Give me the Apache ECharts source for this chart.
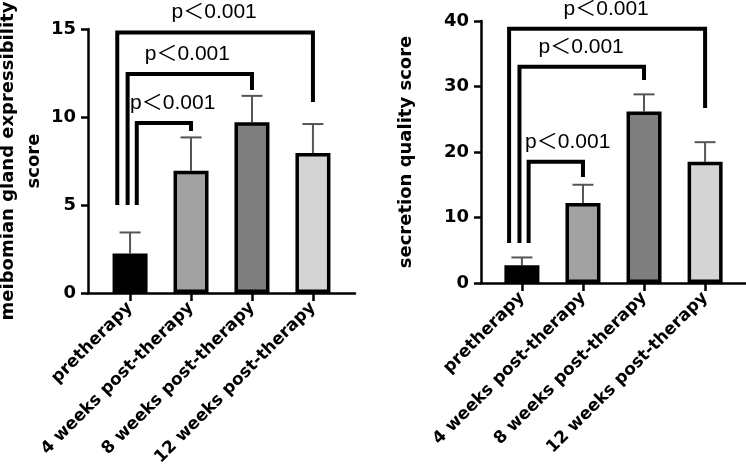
<!DOCTYPE html>
<html>
<head>
<meta charset="utf-8">
<script src="https://cdn.jsdelivr.net/npm/echarts@6/dist/echarts.min.js"></script>
<style>html,body{margin:0;padding:0;background:#fff;}#c{width:746px;height:470px;}</style>
</head>
<body>
<div id="c"></div>
<script>
// ---- data ----
const categories = ['pretherapy', '4 weeks post-therapy', '8 weeks post-therapy', '12 weeks post-therapy'];
const expressMean = [2.25, 6.95, 9.7, 7.95];
const expressUpper = [3.44, 8.84, 11.2, 9.6];
const secretionMean = [2.7, 12.2, 26.2, 18.5];
const secretionUpper = [3.9, 15.0, 28.8, 21.5];
const expressTicks = [0, 5, 10, 15];
const secretionTicks = [0, 10, 20, 30, 40];
const pText = 'p＜0.001';
// brackets: [from, to, leftLegBottom, top, rightLegBottom, labelX]
const expressBrackets = [
  [0, 1, 5.0, 9.66, 9.2, 0.70],
  [0, 2, 5.0, 12.44, 11.53, 0.94],
  [0, 3, 5.0, 14.8, 10.85, 1.38]
];
const secretionBrackets = [
  [0, 1, 6.1, 18.5, 16.2, 0.75],
  [0, 2, 6.1, 33.0, 31.0, 0.97],
  [0, 3, 6.1, 38.8, 26.7, 1.38]
];

const barColors = ['#000000', '#a2a2a2', '#7f7f7f', '#d4d4d4'];
const legOffsets = [0.11, -0.04, -0.21];
const tickFont = {fontFamily: 'DejaVu Sans', fontWeight: 'bold', fontSize: 18, color: '#000'};

function xAxisCfg(gridIndex, min, max) {
  return {
    type: 'value', gridIndex: gridIndex, min: min, max: max,
    splitLine: {show: false},
    axisLine: {show: true, onZero: false, lineStyle: {color: '#000', width: 2.5}},
    axisTick: {show: true, customValues: [0, 1, 2, 3], length: 8, lineStyle: {color: '#000', width: 2.5}},
    axisLabel: Object.assign({
      customValues: [0, 1, 2, 3], rotate: 45, margin: 12, fontSize: 17,
      formatter: function (v) { return categories[Math.round(v)] || ''; }
    }, {fontFamily: 'DejaVu Sans', fontWeight: 'bold', color: '#000'})
  };
}
function yAxisCfg(gridIndex, ticks, name, gap, lh) {
  return {
    type: 'value', gridIndex: gridIndex, min: ticks[0], max: ticks[ticks.length - 1],
    interval: ticks[1] - ticks[0],
    name: name, nameLocation: 'middle', nameRotate: 90, nameGap: gap,
    nameTextStyle: {fontFamily: 'DejaVu Sans', fontWeight: 'bold', fontSize: 18, color: '#000', lineHeight: lh},
    splitLine: {show: false},
    axisLine: {show: true, onZero: false, lineStyle: {color: '#000', width: 2.5}},
    axisTick: {show: true, length: 7, lineStyle: {color: '#000', width: 2.5}},
    axisLabel: Object.assign({margin: 12}, tickFont)
  };
}
function barSeries(idx, mean) {
  return {
    type: 'bar', xAxisIndex: idx, yAxisIndex: idx, barWidth: 35, z: 3,
    data: mean.map(function (v, i) {
      return {value: [i, v], itemStyle: {color: barColors[i], borderColor: '#000', borderWidth: 3.5}};
    })
  };
}
function errSeries(idx, mean, upper) {
  return {
    type: 'custom', xAxisIndex: idx, yAxisIndex: idx, z: 2,
    renderItem: function (params, api) {
      const x = api.value(0);
      const p0 = api.coord([x, api.value(1)]);
      const p1 = api.coord([x, api.value(2)]);
      const st = {stroke: '#555', lineWidth: 2};
      return {type: 'group', children: [
        {type: 'line', shape: {x1: p0[0], y1: p0[1], x2: p1[0], y2: p1[1]}, style: st},
        {type: 'line', shape: {x1: p1[0] - 10.5, y1: p1[1], x2: p1[0] + 10.5, y2: p1[1]}, style: st}
      ]};
    },
    data: mean.map(function (v, i) { return [i, v, upper[i]]; })
  };
}
function bracketSeries(idx, brackets) {
  return {
    type: 'custom', xAxisIndex: idx, yAxisIndex: idx, z: 4, clip: false,
    renderItem: function (params, api) {
      const k = params.dataIndex;
      const from = api.value(0) + legOffsets[k];
      const to = api.value(1);
      const a = api.coord([from, api.value(2)]);
      const b = api.coord([from, api.value(3)]);
      const c = api.coord([to, api.value(3)]);
      const d = api.coord([to, api.value(4)]);
      const t = api.coord([api.value(5), api.value(3)]);
      return {type: 'group', children: [
        {type: 'polyline', shape: {points: [a, b, c, d]},
         style: {stroke: '#000', lineWidth: 4, fill: null, lineJoin: 'miter', lineCap: 'butt'}},
        {type: 'text', x: t[0], y: t[1] - 20,
         style: {text: pText, align: 'center', verticalAlign: 'middle', fill: '#000',
                 font: '21px "Liberation Sans", "Noto Sans CJK SC", sans-serif'}}
      ]};
    },
    data: brackets
  };
}

const chart = echarts.init(document.getElementById('c'), null, {renderer: 'canvas'});
chart.setOption({
  backgroundColor: '#fff',
  animation: false,
  grid: [
    {left: 88, top: 29, width: 267, height: 264, containLabel: false, outerBoundsMode: 'none'},
    {left: 481, top: 21, width: 265, height: 262, containLabel: false, outerBoundsMode: 'none'}
  ],
  xAxis: [xAxisCfg(0, -0.69, 3.69), xAxisCfg(1, -0.67, 3.67)],
  yAxis: [
    yAxisCfg(0, expressTicks, 'meibomian gland expressibility\nscore', 35, 26),
    yAxisCfg(1, secretionTicks, 'secretion quality score', 64, 22)
  ],
  series: [
    errSeries(0, expressMean, expressUpper),
    barSeries(0, expressMean),
    bracketSeries(0, expressBrackets),
    errSeries(1, secretionMean, secretionUpper),
    barSeries(1, secretionMean),
    bracketSeries(1, secretionBrackets)
  ]
});
</script>
</body>
</html>
